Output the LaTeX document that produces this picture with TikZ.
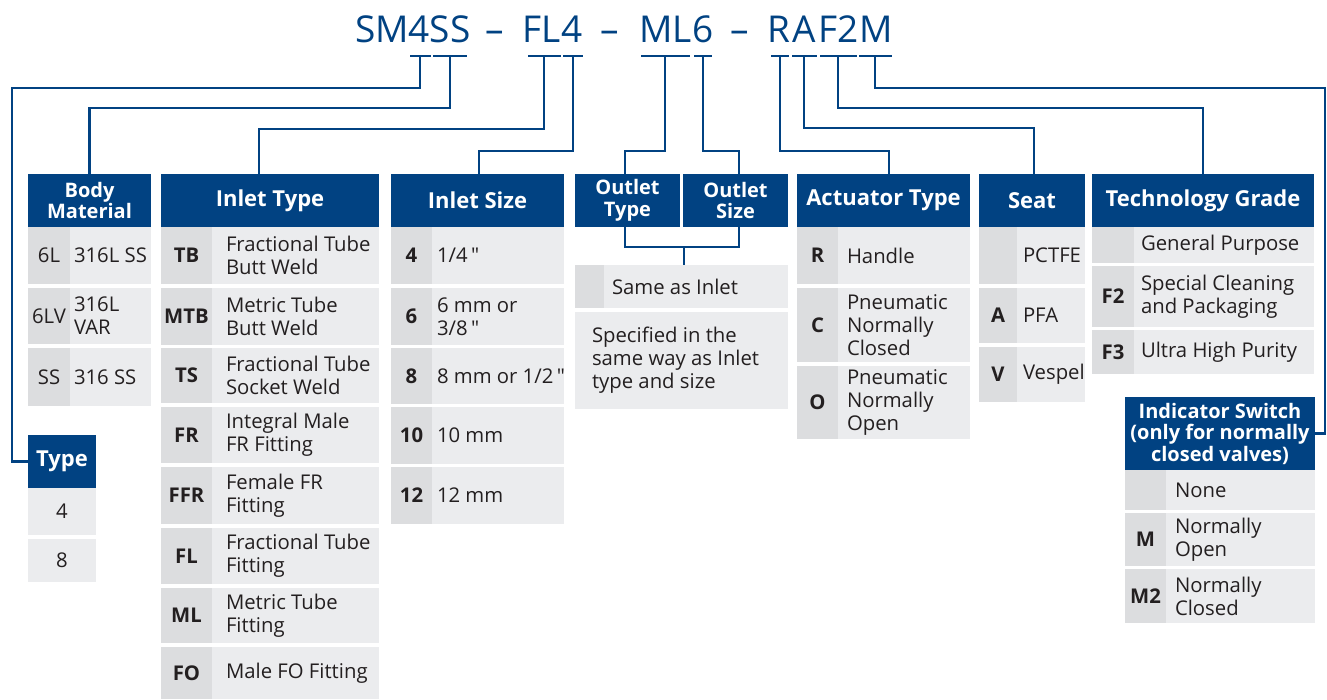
\documentclass[tikz,border=0pt]{standalone}
\usepackage{fontspec}
\setmainfont{Open Sans}
\newfontfamily\plainfont{Open Sans}
\usetikzlibrary{calc}
\definecolor{hblue}{RGB}{1,66,130}
\definecolor{cgray}{RGB}{220,221,223}
\definecolor{tgray}{RGB}{235,236,238}
\definecolor{tdark}{RGB}{35,31,32}
\newcommand\tfont{\fontsize{20.3}{23}\selectfont}
\newcommand\hfont{\fontsize{22}{23}\selectfont\bfseries}
\newcommand\hsfont{\fontsize{20}{21.5}\selectfont\bfseries}
\newcommand\inch{\,{\plainfont"}}
\newcommand\trow[9]{%
  \node[cellc, minimum width={(#3-#2)*1pt}, minimum height={(#6-#5)*1pt}] (#1c) at ({(#2+#3)/2},{(#5+#6)/2}) {#7};
  \node[cellt, minimum width={(#4-#3)*1pt}, minimum height={(#6-#5)*1pt}] (#1t) at ({(#3+#4)/2},{(#5+#6)/2}) {};
  \node[txt, anchor=west] (#1x) at ([xshift=#9pt]#1t.west) {#8};
}
\tikzset{
  cellc/.style={fill=cgray, inner sep=0, text=tdark, font=\tfont},
  cellt/.style={fill=tgray, inner sep=0, text=tdark, font=\tfont},
  txt/.style={inner sep=0, text=tdark, font=\tfont, align=left},
  hdr/.style={fill=hblue, inner sep=0, text=white, font=\hfont, align=center},
  hdrs/.style={hdr, font=\hsfont},
  code/.style={inner sep=0, text=hblue, font=\fontsize{37}{40}\selectfont, anchor=base},
  uline/.style={fill=hblue, inner sep=0, minimum height=2.4pt},
  conn/.style={draw=hblue, line width=2.2pt}
}
\begin{document}
\begin{tikzpicture}[x=1pt, y=-1pt]
\useasboundingbox (0,0) rectangle (1327,699);
% code string
\node[code] (cSM) at (382,42) {SM};
\node[code] (c4a) at (419.5,42) {4};
\node[code] (cSS) at (450,42) {SS};
\node[code] (d1) at (495,42) {–};
\node[code] (cFL) at (541.5,42) {FL};
\node[code] (c4b) at (572,42) {4};
\node[code] (d2) at (610,42) {–};
\node[code] (cML) at (665.5,42) {ML};
\node[code] (c6) at (703,42) {6};
\node[code] (d3) at (740,42) {–};
\node[code] (cR) at (779,42) {R};
\node[code] (cA) at (804.5,42) {A};
\node[code] (cF2) at (838.5,42) {F2};
\node[code] (cM) at (876.5,42) {M};
% underlines
\node[uline, minimum width=21pt] (u4a) at (420,56) {};
\node[uline, minimum width=34pt] (uss) at (450,56) {};
\node[uline, minimum width=33pt] (ufl) at (544,56) {};
\node[uline, minimum width=20pt] (u4b) at (573,56) {};
\node[uline, minimum width=49pt] (uml) at (665,56) {};
\node[uline, minimum width=18pt] (u6) at (703,56) {};
\node[uline, minimum width=18pt] (ur) at (780,56) {};
\node[uline, minimum width=25pt] (ua) at (804,56) {};
\node[uline, minimum width=37pt] (uf2) at (838,56) {};
\node[uline, minimum width=33pt] (um) at (875,56) {};
% headers
\node[hdrs, minimum width=123pt, minimum height=53pt] (hbody) at (89.5,200.5) {Body\\Material};
\node[hdr, minimum width=218pt, minimum height=53pt] (hitype) at (270,200.5) {Inlet Type};
\node[hdr, minimum width=173pt, minimum height=53pt] (hisize) at (477.5,200.5) {Inlet Size};
\node[hdrs, minimum width=105pt, minimum height=53pt] (hotype) at (627.5,200.5) {Outlet\\Type};
\node[hdrs, minimum width=105pt, minimum height=53pt] (hosize) at (735.5,200.5) {Outlet\\Size};
\node[hdr, minimum width=173pt, minimum height=53pt] (hact) at (883.5,200.5) {Actuator Type};
\node[hdr, minimum width=106pt, minimum height=53pt] (hseat) at (1032,200.5) {Seat};
\node[hdr, minimum width=222pt, minimum height=53pt] (htech) at (1203,200.5) {Technology Grade};
\node[hdr, minimum width=68pt, minimum height=53pt] (htype) at (62,461.5) {Type};
\node[hdrs, minimum width=190pt, minimum height=73pt] (hind) at (1220,433.5) {Indicator Switch\\(only for normally\\closed valves)};
% body material
\trow{bm1}{28}{70}{151}{227}{284}{6L}{316L SS}{4}
\trow{bm2}{28}{70}{151}{288}{344}{6LV}{316L\\VAR}{4}
\trow{bm3}{28}{70}{151}{348}{406}{SS}{316 SS}{4}
% type
\node[cellt, minimum width=68pt, minimum height=47pt] (ty1) at (62,511.5) {4};
\node[cellt, minimum width=68pt, minimum height=43pt] (ty2) at (62,560.5) {8};
% inlet type
\trow{it1}{161}{212}{379}{227}{284}{\textbf{TB}}{Fractional Tube\\Butt Weld}{14}
\trow{it2}{161}{212}{379}{288}{345}{\textbf{MTB}}{Metric Tube\\Butt Weld}{14}
\trow{it3}{161}{212}{379}{348}{403}{\textbf{TS}}{Fractional Tube\\Socket Weld}{14}
\trow{it4}{161}{212}{379}{407}{463}{\textbf{FR}}{Integral Male\\FR Fitting}{14}
\trow{it5}{161}{212}{379}{467}{524}{\textbf{FFR}}{Female FR\\Fitting}{14}
\trow{it6}{161}{212}{379}{528}{584}{\textbf{FL}}{Fractional Tube\\Fitting}{14}
\trow{it7}{161}{212}{379}{588}{643}{\textbf{ML}}{Metric Tube\\Fitting}{14}
\trow{it8}{161}{212}{379}{647}{699}{\textbf{FO}}{Male FO Fitting}{14}
% inlet size
\trow{is1}{391}{432}{564}{227}{284}{\textbf{4}}{1/4\inch}{5}
\trow{is2}{391}{432}{564}{288}{345}{\textbf{6}}{6 mm or\\3/8\inch}{5}
\trow{is3}{391}{432}{564}{348}{404}{\textbf{8}}{8 mm or 1/2\inch}{5}
\trow{is4}{391}{432}{564}{407}{464}{\textbf{10}}{10 mm}{5}
\trow{is5}{391}{432}{564}{467}{524}{\textbf{12}}{12 mm}{5}
% outlet
\trow{same}{575}{604}{788}{265}{308}{}{Same as Inlet}{8}
\node[cellt, minimum width=213pt, minimum height=97pt] (spec) at (681.5,360.5) {};
\node[txt, anchor=west] (spect) at ([xshift=17pt]spec.west) {Specified in the\\same way as Inlet\\type and size};
% actuator
\trow{ac1}{797}{838}{970}{227}{284}{\textbf{R}}{Handle}{9}
\trow{ac2}{797}{838}{970}{288}{362}{\textbf{C}}{Pneumatic\\Normally\\Closed}{9}
\trow{ac3}{797}{838}{970}{366}{439}{\textbf{O}}{Pneumatic\\Normally\\Open}{9}
% seat
\trow{se1}{979}{1017}{1085}{227}{284}{}{PCTFE}{6}
\trow{se2}{979}{1017}{1085}{288}{343}{\textbf{A}}{PFA}{6}
\trow{se3}{979}{1017}{1085}{347}{402}{\textbf{V}}{Vespel}{6}
% technology grade
\trow{tg1}{1092}{1134}{1314}{227}{263}{}{General Purpose}{7}
\trow{tg2}{1092}{1134}{1314}{266}{327}{\textbf{F2}}{Special Cleaning\\and Packaging}{7}
\trow{tg3}{1092}{1134}{1314}{330}{374}{\textbf{F3}}{Ultra High Purity}{7}
% indicator
\trow{in1}{1125}{1166}{1315}{470}{510}{}{None}{9}
\trow{in2}{1125}{1166}{1315}{513}{566}{\textbf{M}}{Normally\\Open}{9}
\trow{in3}{1125}{1166}{1315}{569}{623}{\textbf{M2}}{Normally\\Closed}{9}
% connectors
\draw[conn] (u4a.center) |- (12,88) |- (htype.west);
\draw[conn] (uss.center) |- (hbody.north |- 0,108) -- (hbody.north);
\draw[conn] (ufl.center) |- (259,129) -- (hitype.north -| 259,0);
\draw[conn] (u4b.center) |- (479,151) -- (hisize.north -| 479,0);
\draw[conn] (uml.center) |- (625,151) -- (hotype.north -| 625,0);
\draw[conn] (u6.center) |- (739,151) -- (hosize.north -| 739,0);
\draw[conn] (ur.center) |- (889,151) -- (hact.north -| 889,0);
\draw[conn] (ua.center) |- (1034,128) -- (hseat.north -| 1034,0);
\draw[conn] (uf2.center) |- (htech.north |- 0,108) -- (htech.north);
\draw[conn] (um.center) |- (1325,88) |- (hind.east);
\draw[conn] (hotype.south -| 625,0) |- (684,247) -| (hosize.south -| 739,0);
\draw[conn] (684,247) -- (samet.north -| 684,0);
\end{tikzpicture}
\end{document}
